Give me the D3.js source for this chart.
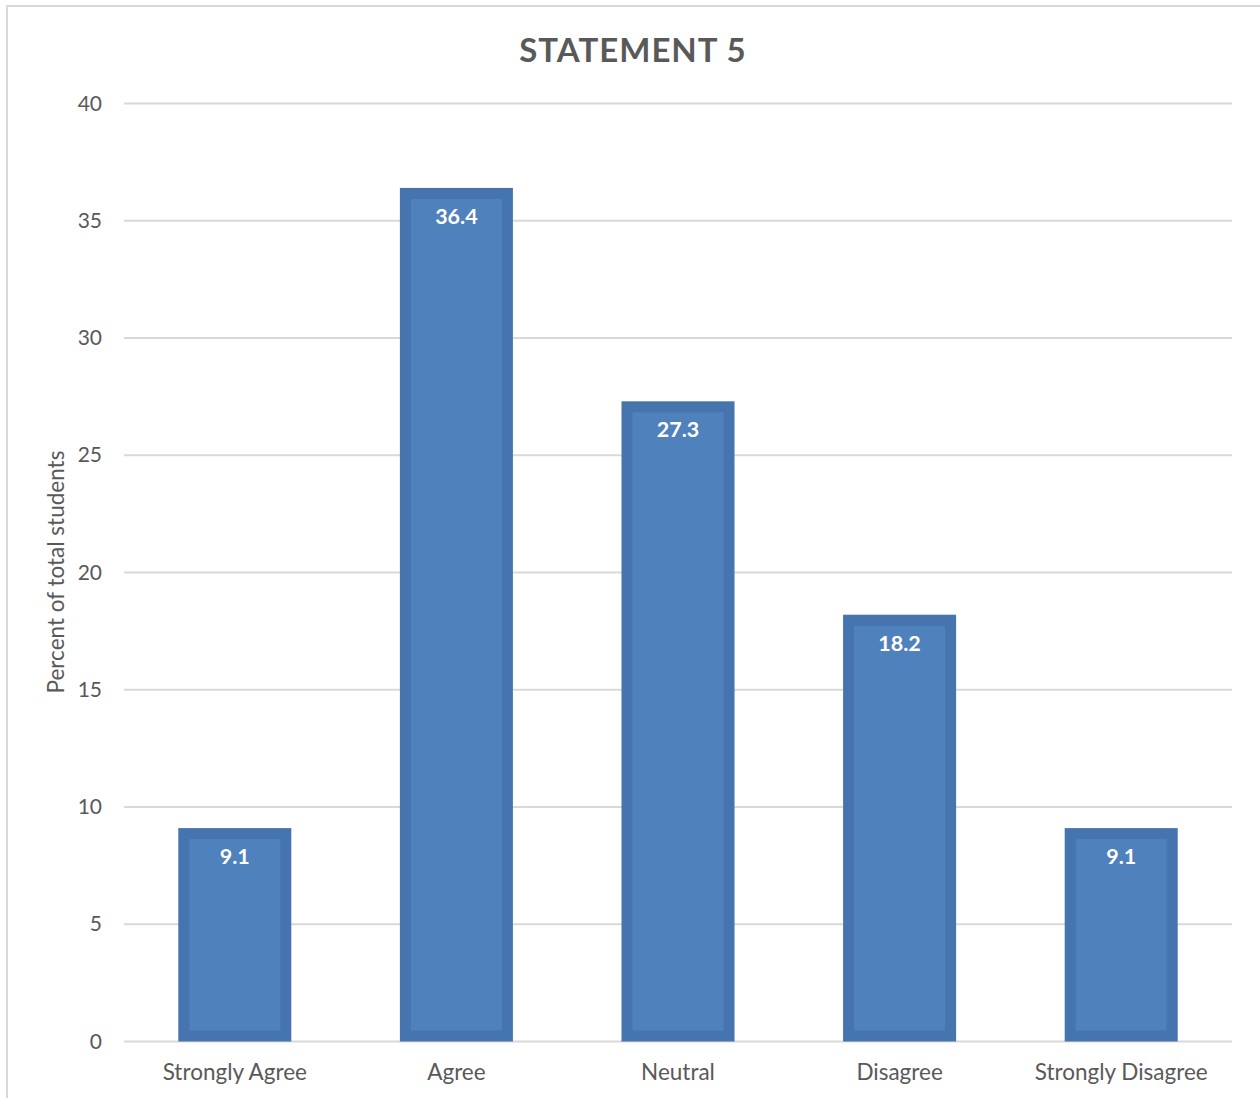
<!DOCTYPE html>
<html>
<head>
<meta charset="utf-8">
<script src="https://cdn.jsdelivr.net/npm/d3@7"></script>
<style>
  html, body { margin: 0; padding: 0; background: #fff; }
  svg text { font-family: Lato, "Noto Sans", sans-serif; }
</style>
</head>
<body>
<svg id="chart" width="1260" height="1098"></svg>
<script>
// Survey responses for statement 5
const categories = ["Strongly Agree", "Agree", "Neutral", "Disagree", "Strongly Disagree"];
const percents = [9.1, 36.4, 27.3, 18.2, 9.1];
const yTicks = [0, 5, 10, 15, 20, 25, 30, 35, 40];
const chartTitle = "STATEMENT 5";
const yAxisTitle = "Percent of total students";

const svg = d3.select("#chart");
const W = 1260, H = 1098;
const margin = { left: 124, right: 28, top: 103.5, bottom: 56.5 };

// chart frame
svg.append("rect")
  .attr("x", 7).attr("y", 6)
  .attr("width", W + 10).attr("height", H + 10)
  .attr("fill", "#fff").attr("stroke", "#d9d9d9").attr("stroke-width", 2);

const x = d3.scaleBand()
  .domain(categories)
  .range([margin.left, W - margin.right])
  .paddingInner(0.49).paddingOuter(0.245);

const y = d3.scaleLinear().domain([0, 40]).range([H - margin.bottom, margin.top]);

// gridlines
svg.append("g").selectAll("line").data(yTicks).join("line")
  .attr("x1", margin.left).attr("x2", W - margin.right)
  .attr("y1", d => y(d)).attr("y2", d => y(d))
  .attr("stroke", "#d9d9d9").attr("stroke-width", 2);

// y axis labels
const yAxis = d3.axisLeft(y).tickValues(yTicks).tickSize(0).tickPadding(0);
const gy = svg.append("g").attr("transform", `translate(${margin.left - 22},0)`).call(yAxis);
gy.select(".domain").remove();
gy.selectAll("text")
  .attr("font-size", 21).attr("fill", "#595959")
  .attr("font-family", "Lato, 'Noto Sans', sans-serif");

// x axis labels
const xAxis = d3.axisBottom(x).tickSize(0).tickPadding(0);
const gx = svg.append("g").attr("transform", `translate(0,${H - margin.bottom + 23})`).call(xAxis);
gx.select(".domain").remove();
gx.selectAll("text")
  .attr("font-size", 22.5).attr("fill", "#595959")
  .attr("font-family", "Lato, 'Noto Sans', sans-serif");

// bars: darker outer rim with lighter inner panel
const border = 11;
const bars = svg.append("g").selectAll("g").data(categories.map((c, i) => ({ c, v: percents[i] }))).join("g");
bars.append("rect")
  .attr("x", d => x(d.c)).attr("y", d => y(d.v))
  .attr("width", x.bandwidth()).attr("height", d => y(0) - y(d.v))
  .attr("fill", "#4674AE");
bars.append("rect")
  .attr("x", d => x(d.c) + border).attr("y", d => y(d.v) + border)
  .attr("width", x.bandwidth() - 2 * border)
  .attr("height", d => Math.max(0, y(0) - y(d.v) - 2 * border))
  .attr("fill", "#4F81BD");

// value labels
bars.append("text")
  .attr("x", d => x(d.c) + x.bandwidth() / 2)
  .attr("y", d => y(d.v) + 36)
  .attr("text-anchor", "middle")
  .attr("font-size", 21.5).attr("font-weight", "bold").attr("fill", "#fff")
  .text(d => d.v.toFixed(1));

// title
svg.append("text")
  .attr("x", 633).attr("y", 62)
  .attr("text-anchor", "middle")
  .attr("font-size", 33).attr("font-weight", "bold").attr("fill", "#595959")
  .attr("letter-spacing", 1)
  .text(chartTitle);

// y axis title
svg.append("text")
  .attr("transform", `translate(64,572) rotate(-90)`)
  .attr("text-anchor", "middle")
  .attr("font-size", 22.5).attr("fill", "#595959")
  .text(yAxisTitle);
</script>
</body>
</html>
